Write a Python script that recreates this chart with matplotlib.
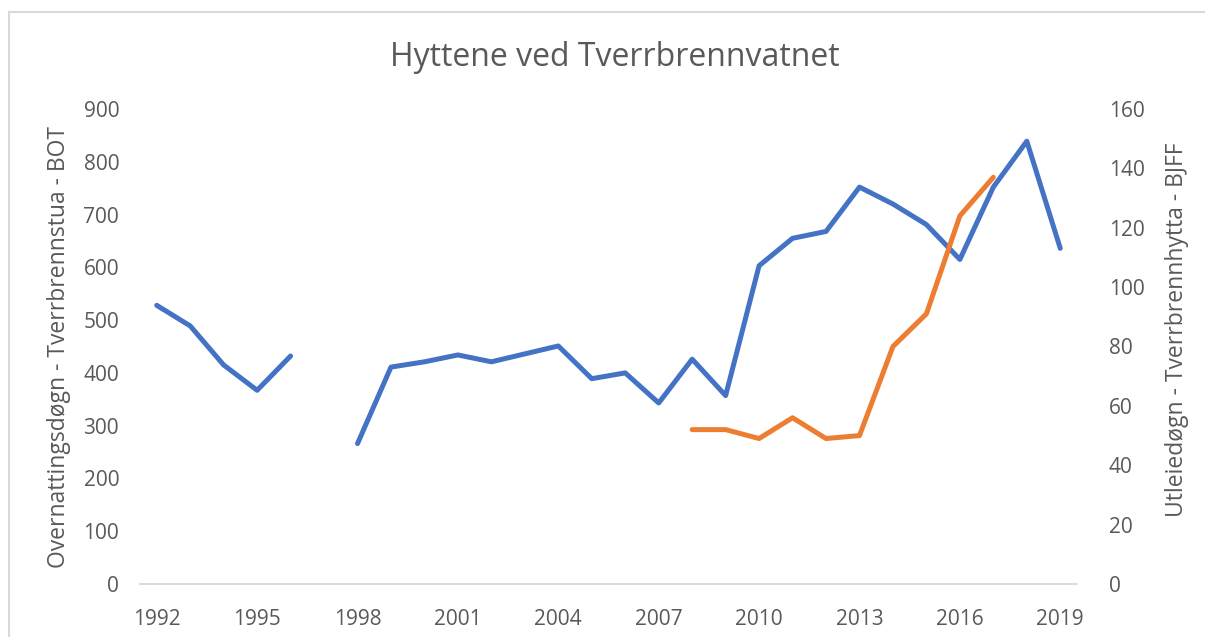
import numpy as np
import matplotlib
matplotlib.use("Agg")
import matplotlib.pyplot as plt
from matplotlib.patches import Rectangle

years = list(range(1992, 2020))
bot_values = [528, 489, 415, 367, 432, np.nan, 266, 411, 421, 434, 421, 436, 451, 389,
              400, 343, 426, 357, 603, 655, 668, 752, 720, 681, 615, 752, 839, 636]
bjff_years = list(range(2008, 2018))
bjff_values = [52, 52, 49, 56, 49, 50, 80, 91, 124, 137]
xtick_years = list(range(1992, 2020, 3))
left_ticks = list(range(0, 1000, 100))
right_ticks = list(range(0, 180, 20))

plt.rcParams['font.family'] = ['Open Sans', 'DejaVu Sans']
txt = '#595959'
W, H = 1205, 637

fig = plt.figure(figsize=(12.05, 6.37), dpi=100)
fig.patches.append(Rectangle((8.5/W, -0.1), 1.2, 1.1 - 11.5/H, transform=fig.transFigure,
                             fill=False, edgecolor='#d9d9d9', lw=1.5))
ax = fig.add_axes([140/W, 1-584/H, 937/W, 475/H])
ax2 = ax.twinx()

ax.plot(years, bot_values, color='#4472C4', lw=3.6, solid_capstyle='round', solid_joinstyle='round')
ax2.plot(bjff_years, bjff_values, color='#ED7D31', lw=3.6, solid_capstyle='round', solid_joinstyle='round')

ax.set_xlim(1991.5, 2019.5)
ax.set_ylim(0, 900)
ax2.set_ylim(0, 160)
ax.set_xticks(xtick_years)
ax.set_xticklabels([str(y) for y in xtick_years])
ax.set_yticks(left_ticks)
ax2.set_yticks(right_ticks)

for a in (ax, ax2):
    for s in a.spines.values():
        s.set_visible(False)
    a.tick_params(length=0, colors=txt, labelsize=15)
ax.spines['bottom'].set_visible(True)
ax.spines['bottom'].set_color('#d9d9d9')
ax.spines['bottom'].set_linewidth(1.3)
ax.tick_params(axis='x', pad=18)
ax.tick_params(axis='y', pad=15)
ax2.tick_params(axis='y', pad=23)

fig.text(59/W, 1-347/H, 'Overnattingsdøgn - Tverrbrennstua - BOT', rotation=90,
         ha='center', va='center', color=txt, fontsize=16.5)
fig.text(1177/W, 1-330/H, 'Utleiedøgn - Tverrbrennhytta - BJFF', rotation=90,
         ha='center', va='center', color=txt, fontsize=16.5)
fig.text(615/W, 1-57/H, 'Hyttene ved Tverrbrennvatnet', ha='center', va='center',
         color=txt, fontsize=23)

fig.savefig('out.png', dpi=100)
